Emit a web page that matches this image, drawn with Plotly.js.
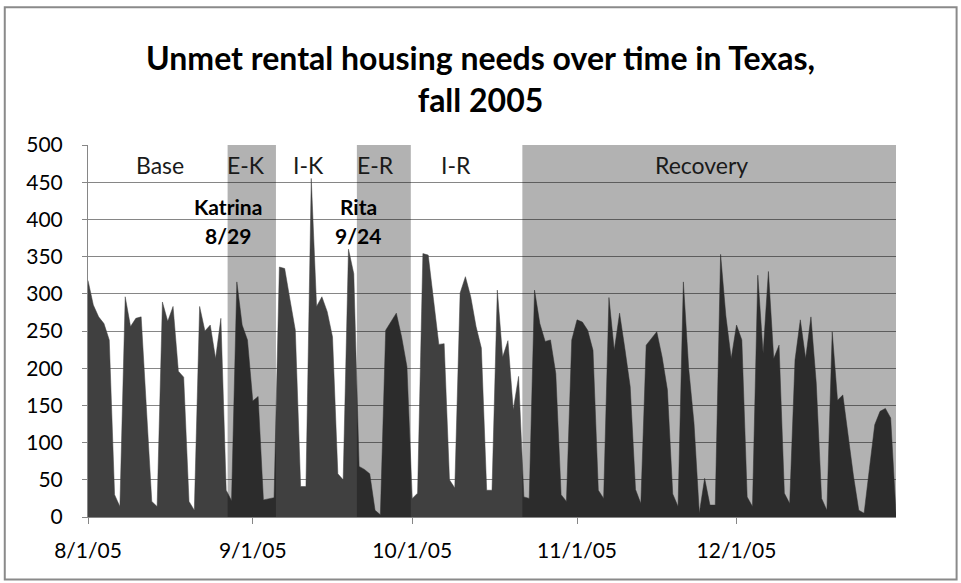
<!DOCTYPE html>
<html>
<head>
<meta charset="utf-8">
<script src="https://cdn.plot.ly/plotly-3.0.1.min.js"></script>
<style>
  html, body { margin: 0; padding: 0; background: #ffffff; }
  #chart { width: 961px; height: 583px; }
</style>
</head>
<body>
<div id="chart"></div>
<script>
// ---- Data (daily, 8/1/05 .. 12/31/05) ----
const dates = [
 "2005-08-01","2005-08-02","2005-08-03","2005-08-04","2005-08-05","2005-08-06","2005-08-07",
 "2005-08-08","2005-08-09","2005-08-10","2005-08-11","2005-08-12","2005-08-13","2005-08-14",
 "2005-08-15","2005-08-16","2005-08-17","2005-08-18","2005-08-19","2005-08-20","2005-08-21",
 "2005-08-22","2005-08-23","2005-08-24","2005-08-25","2005-08-26","2005-08-27","2005-08-28",
 "2005-08-29","2005-08-30","2005-08-31","2005-09-01","2005-09-02","2005-09-03","2005-09-04",
 "2005-09-05","2005-09-06","2005-09-07","2005-09-08","2005-09-09","2005-09-10","2005-09-11",
 "2005-09-12","2005-09-13","2005-09-14","2005-09-15","2005-09-16","2005-09-17","2005-09-18",
 "2005-09-19","2005-09-20","2005-09-21","2005-09-22","2005-09-23","2005-09-24","2005-09-25",
 "2005-09-26","2005-09-27","2005-09-28","2005-09-29","2005-09-30","2005-10-01","2005-10-02",
 "2005-10-03","2005-10-04","2005-10-05","2005-10-06","2005-10-07","2005-10-08","2005-10-09",
 "2005-10-10","2005-10-11","2005-10-12","2005-10-13","2005-10-14","2005-10-15","2005-10-16",
 "2005-10-17","2005-10-18","2005-10-19","2005-10-20","2005-10-21","2005-10-22","2005-10-23",
 "2005-10-24","2005-10-25","2005-10-26","2005-10-27","2005-10-28","2005-10-29","2005-10-30",
 "2005-10-31","2005-11-01","2005-11-02","2005-11-03","2005-11-04","2005-11-05","2005-11-06",
 "2005-11-07","2005-11-08","2005-11-09","2005-11-10","2005-11-11","2005-11-12","2005-11-13",
 "2005-11-14","2005-11-15","2005-11-16","2005-11-17","2005-11-18","2005-11-19","2005-11-20",
 "2005-11-21","2005-11-22","2005-11-23","2005-11-24","2005-11-25","2005-11-26","2005-11-27",
 "2005-11-28","2005-11-29","2005-11-30","2005-12-01","2005-12-02","2005-12-03","2005-12-04",
 "2005-12-05","2005-12-06","2005-12-07","2005-12-08","2005-12-09","2005-12-10","2005-12-11",
 "2005-12-12","2005-12-13","2005-12-14","2005-12-15","2005-12-16","2005-12-17","2005-12-18",
 "2005-12-19","2005-12-20","2005-12-21","2005-12-22","2005-12-23","2005-12-24","2005-12-25",
 "2005-12-26","2005-12-27","2005-12-28","2005-12-29","2005-12-30","2005-12-31"
];
const unmetNeeds = [
 318,285,269,260,238,30,14,
 296,256,267,269,145,21,14,
 289,263,283,196,188,21,9,
 283,250,258,213,267,36,22,
 316,258,238,156,162,23,25,
 26,336,334,292,251,41,41,
 455,283,296,276,242,58,50,
 360,327,68,64,58,9,3,
 251,263,274,242,202,25,32,
 354,352,292,232,233,50,39,
 301,323,296,256,227,36,36,
 305,215,237,144,189,27,25,
 305,260,236,238,193,30,21,
 238,265,262,251,224,36,25,
 295,224,274,226,175,37,18,
 231,240,249,215,171,31,14,
 316,200,126,5,52,16,16,
 353,270,213,258,238,27,14,
 325,220,330,213,231,32,18,
 211,265,213,269,180,25,9,
 249,157,164,110,55,9,5,
 65,124,142,146,133,5
];
// Period bands (start, end) and labels
const bandNames  = ["E-K", "E-R", "Recovery"];
const bandStarts = ["2005-08-27 06:14", "2005-09-20 13:55", "2005-10-21 17:02"];
const bandEnds   = ["2005-09-05 08:38", "2005-09-30 17:31", "2005-12-31 00:00"];
const periodLabels = ["Base", "E-K", "I-K", "E-R", "I-R", "Recovery"];
const periodLabelX = ["2005-08-14 12:00", "2005-08-30 17:00", "2005-09-11 10:00",
                      "2005-09-24 00:00", "2005-10-09 05:00", "2005-11-24 10:00"];
const eventNames = ["Katrina", "Rita"];
const eventDates = ["8/29", "9/24"];
const eventX = ["2005-08-27 07:00", "2005-09-20 19:00"];
const xTickVals = ["2005-08-01", "2005-09-01", "2005-10-01", "2005-11-01", "2005-12-01"];
const xTickText = ["8/1/05", "9/1/05", "10/1/05", "11/1/05", "12/1/05"];

const FONT = "Lato, 'Open Sans', sans-serif";

const trace = {
  x: dates,
  y: unmetNeeds,
  type: "scatter",
  mode: "lines",
  fill: "tozeroy",
  fillcolor: "#404040",
  line: { color: "#404040", width: 0.5, shape: "linear" },
  hoverinfo: "x+y",
  showlegend: false
};

const shapes = bandNames.map((n, i) => ({
  type: "rect", xref: "x", yref: "paper",
  x0: bandStarts[i], x1: bandEnds[i], y0: 0, y1: 1,
  fillcolor: "rgba(0,0,0,0.30)", line: { width: 0 }, layer: "above"
}));
// outer chart frame
shapes.push({
  type: "rect", xref: "paper", yref: "paper",
  x0: -0.103, x1: 1.075, y0: -0.168, y1: 1.37,
  line: { color: "#8a8a8a", width: 2 }, fillcolor: "rgba(0,0,0,0)", layer: "above"
});

const annotations = [];
periodLabels.forEach((t, i) => annotations.push({
  x: periodLabelX[i], y: 473, xref: "x", yref: "y", text: t, showarrow: false,
  font: { family: FONT, size: 23, color: "#1a1a1a" }, xanchor: "center", yanchor: "middle"
}));
eventNames.forEach((t, i) => {
  annotations.push({
    x: eventX[i], y: 417, xref: "x", yref: "y", text: "<b>" + t + "</b>", showarrow: false,
    font: { family: FONT, size: 21, color: "#000000" }, xanchor: "center", yanchor: "middle"
  });
  annotations.push({
    x: eventX[i], y: 379, xref: "x", yref: "y", text: "<b>" + eventDates[i] + "</b>", showarrow: false,
    font: { family: FONT, size: 21, color: "#000000" }, xanchor: "center", yanchor: "middle"
  });
});

const layout = {
  width: 961, height: 583,
  margin: { l: 88, r: 65, t: 145, b: 66 },
  paper_bgcolor: "#ffffff",
  plot_bgcolor: "#ffffff",
  title: {
    text: "<b>Unmet rental housing needs over time in Texas,<br>fall 2005</b>",
    font: { family: FONT, size: 32, color: "#000000" },
    x: 0.5, xref: "container", xanchor: "center",
    y: 1 - 70 / 583, yref: "container", yanchor: "middle"
  },
  xaxis: {
    type: "date",
    range: ["2005-08-01", "2005-12-31"],
    tickvals: xTickVals, ticktext: xTickText,
    ticks: "outside", ticklen: 6, tickcolor: "#868686", tickwidth: 1,
    ticklabelstandoff: 9,
    showline: true, linecolor: "#868686", linewidth: 1,
    showgrid: false, zeroline: false,
    tickfont: { family: FONT, size: 21, color: "#000000" }
  },
  yaxis: {
    range: [0, 500], dtick: 50, tick0: 0,
    ticks: "outside", ticklen: 5, tickcolor: "#868686",
    ticklabelstandoff: 15,
    showline: true, linecolor: "#868686", linewidth: 1,
    showgrid: true, gridcolor: "#868686", gridwidth: 1,
    zeroline: false,
    tickfont: { family: FONT, size: 21, color: "#000000" }
  },
  shapes: shapes,
  annotations: annotations,
  showlegend: false
};

Plotly.newPlot("chart", [trace], layout, { displayModeBar: false, staticPlot: true });
</script>
</body>
</html>
